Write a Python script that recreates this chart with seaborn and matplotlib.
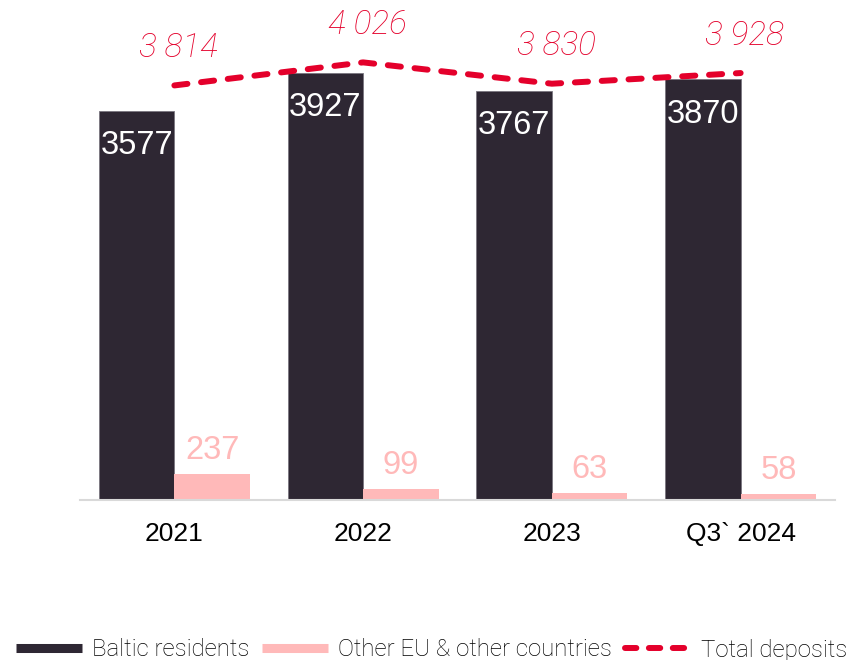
import numpy as np
import pandas as pd
import seaborn as sns
import matplotlib.pyplot as plt
from matplotlib.lines import Line2D

# data
periods = ['2021', '2022', '2023', 'Q3` 2024']
baltic = [3577, 3927, 3767, 3870]
other_eu = [237, 99, 63, 58]
total = [3814, 4026, 3830, 3928]
total_labels = ['3 814', '4 026', '3 830', '3 928']
series_names = ['Baltic residents', 'Other EU & other countries']

DARK = '#2e2733'
PINK = '#ffb9b9'
RED = '#e4002b'

sns.set_style('white')
plt.rcParams['font.family'] = ['Liberation Sans', 'DejaVu Sans']

df = pd.DataFrame({
    'period': periods * 2,
    'value': baltic + other_eu,
    'series': [series_names[0]] * 4 + [series_names[1]] * 4,
})

fig = plt.figure(figsize=(8.58, 6.60), dpi=100)
ax = fig.add_axes([80 / 858, 160 / 660, 755 / 858, 500 / 660])

sns.barplot(data=df, x='period', y='value', hue='series', order=periods,
            hue_order=series_names, palette=[DARK, PINK], width=0.8,
            saturation=1, legend=False, ax=ax)

dark_bars, pink_bars = ax.containers[0], ax.containers[1]
for p in dark_bars:
    p.set_edgecolor('#7a7680')
    p.set_linewidth(0.6)
for p in pink_bars:
    p.set_linewidth(0)

# labels inside the dark bars
for p, v in zip(dark_bars, baltic):
    ax.annotate(str(v), (p.get_x() + p.get_width() / 2, p.get_height()),
                xytext=(0, -25), textcoords='offset points',
                ha='center', va='center', color='white', fontsize=23.5)
# labels above the pink bars
for p, v in zip(pink_bars, other_eu):
    ax.annotate(str(v), (p.get_x() + p.get_width() / 2, p.get_height()),
                xytext=(0, 17), textcoords='offset points',
                ha='center', va='center', color=PINK, fontsize=23.5)

# total deposits line
x = np.arange(len(periods))
ax.plot(x, total, color=RED, lw=4.3, dashes=(2.2, 2.3),
        dash_capstyle='round', solid_capstyle='round')
for xi, t, lab in zip(x, total, total_labels):
    ax.annotate(lab, (xi, t), xytext=(3, 27), textcoords='offset points',
                ha='center', va='center', color=RED, fontsize=24,
                family='Roboto', style='italic', fontweight='light')

ax.set_xlim(-0.5, 3.5)
ax.set_ylim(0, 4600)
ax.set_xlabel('')
ax.set_ylabel('')
ax.set_yticks([])
ax.tick_params(axis='x', length=0, pad=16, labelsize=19, labelcolor='black')
for s in ['top', 'right', 'left']:
    ax.spines[s].set_visible(False)
ax.spines['bottom'].set_color('#d9d9d9')
ax.spines['bottom'].set_linewidth(1.5)

handles = [
    Line2D([], [], color=DARK, lw=6.5, solid_capstyle='butt'),
    Line2D([], [], color=PINK, lw=6.5, solid_capstyle='butt'),
    Line2D([], [], color=RED, lw=4.3, dashes=(1.9, 2.1), dash_capstyle='round'),
]
fig.legend(handles, series_names + ['Total deposits'], loc='center',
           bbox_to_anchor=(0.503, 10 / 660), ncol=3, frameon=False,
           handlelength=2.75, handletextpad=0.4, columnspacing=0.55,
           labelcolor='#000000',
           prop={'family': 'Roboto', 'weight': 'light', 'size': 17.3})

fig.savefig('out.png', dpi=100)
